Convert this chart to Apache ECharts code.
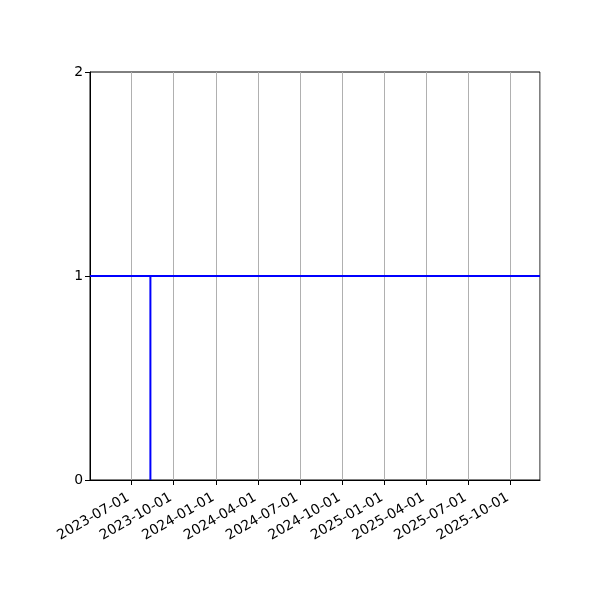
<!DOCTYPE html>
<html>
<head>
<meta charset="utf-8">
<script src="https://cdn.jsdelivr.net/npm/echarts@6/dist/echarts.min.js"></script>
<style>
  html, body { margin: 0; padding: 0; background: #fff; }
  #chart { width: 600px; height: 600px; }
</style>
</head>
<body>
<div id="chart"></div>
<script>
// 数据
const axisStart = '2023-04-03';
const axisEnd = '2025-12-04';
const stepDates = ['2023-08-12', '2023-08-12', '2025-10-22'];
const stepValues = [0, 1, 1];
const levelValue = 1;
const yTicks = [0, 1, 2];

const DAY = 24 * 3600 * 1000;
const FONT = 'DejaVu Sans';

const chart = echarts.init(document.getElementById('chart'), null, { renderer: 'canvas' });

const option = {
  animation: false,
  backgroundColor: '#ffffff',
  grid: {
    left: 90,
    right: 60,
    top: 72,
    bottom: 120,
    show: true,
    borderColor: '#000',
    borderWidth: 1,
    backgroundColor: 'transparent'
  },
  xAxis: {
    type: 'time',
    min: axisStart,
    max: axisEnd,
    minInterval: 91 * DAY,
    maxInterval: 91 * DAY,
    axisLine: { show: true, lineStyle: { color: '#000', width: 1 } },
    axisTick: { show: true, length: 5, lineStyle: { color: '#000', width: 1 } },
    axisLabel: {
      formatter: '{yyyy}-{MM}-{dd}',
      rotate: 30,
      margin: 15,
      padding: [0, 3, 0, 0],
      color: '#000',
      fontFamily: FONT,
      fontSize: 13.9,
      hideOverlap: false,
      showMinLabel: false,
      showMaxLabel: false
    },
    splitLine: { show: true, lineStyle: { color: '#b0b0b0', width: 1 } }
  },
  yAxis: {
    type: 'value',
    min: yTicks[0],
    max: yTicks[yTicks.length - 1],
    interval: 1,
    axisLine: { show: true, lineStyle: { color: '#000', width: 1 } },
    axisTick: { show: true, length: 5, lineStyle: { color: '#000', width: 1 } },
    axisLabel: { color: '#000', fontFamily: FONT, fontSize: 13.9, margin: 7 },
    splitLine: { show: false }
  },
  series: [
    {
      type: 'line',
      data: stepDates.map((d, i) => [d, stepValues[i]]),
      showSymbol: false,
      lineStyle: { color: '#0000ff', width: 2 },
      markLine: {
        silent: true,
        symbol: ['none', 'none'],
        label: { show: false },
        lineStyle: { color: '#0000ff', width: 2, type: 'solid' },
        data: [{ yAxis: levelValue }]
      }
    }
  ]
};

chart.setOption(option);
</script>
</body>
</html>
